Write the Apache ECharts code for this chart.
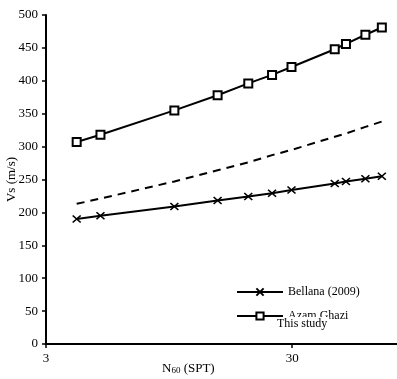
<!DOCTYPE html>
<html>
<head>
<meta charset="utf-8">
<script src="https://cdn.jsdelivr.net/npm/echarts@6/dist/echarts.min.js"></script>
<style>
  html, body { margin: 0; padding: 0; background: #fff; }
  #chart { width: 397px; height: 379px; }
</style>
</head>
<body>
<div id="chart"></div>
<script>
// N60 values (log axis)
var n60 = [4, 5, 10, 15, 20, 25, 30, 45, 50, 60, 70];
var bellana = [190, 195, 209, 218, 224, 229, 234, 244, 247, 251, 255];
var azamGhazi = [307, 318, 355, 378, 396, 409, 421, 448, 456, 470, 481];
var thisStudy = [213, 221, 247, 264, 276, 287, 295, 315, 320, 330, 338];
var xTicks = [3, 30];

function pairs(vals){
  return n60.map(function(n, i){ return [n, vals[i]]; });
}

var serif = "Liberation Serif";
var chart = echarts.init(document.getElementById("chart"));
var option = {
  animation: false,
  backgroundColor: "#fff",
  // the axis runs 3..300, the right part is cut off by the canvas edge
  grid: { left: 46, right: -140, top: 15, bottom: 35, outerBoundsMode: "none", containLabel: false },
  legend: {
    left: 231, top: 281,
    orient: "vertical",
    itemWidth: 46, itemHeight: 9, itemGap: 12,
    data: ["Bellana (2009)", "Azam Ghazi"],
    textStyle: { fontFamily: serif, fontSize: 12, color: "#000" }
  },
  xAxis: {
    type: "log",
    logBase: 10,
    min: 3, max: 300,
    interval: 1,
    splitLine: { show: false },
    axisLine: { lineStyle: { color: "#000", width: 2 } },
    axisTick: { inside: false, length: 4, lineStyle: { color: "#000", width: 1.5 } },
    minorTick: { show: false },
    axisLabel: {
      fontFamily: serif, fontSize: 13, color: "#000", margin: 8,
      formatter: function(v){ return xTicks.indexOf(Math.round(v)) >= 0 ? String(Math.round(v)) : ""; }
    }
  },
  yAxis: {
    type: "value",
    min: 0, max: 500, interval: 50,
    name: "Vs (m/s)",
    nameLocation: "middle",
    nameGap: 28,
    nameMoveOverlap: false,
    nameTextStyle: { fontFamily: serif, fontSize: 13, color: "#000" },
    splitLine: { show: false },
    axisLine: { show: true, lineStyle: { color: "#000", width: 2 } },
    axisTick: { show: true, length: 4, lineStyle: { color: "#000", width: 1.5 } },
    axisLabel: { fontFamily: serif, fontSize: 13, color: "#000", margin: 8 }
  },
  graphic: [
    {
      type: "text", left: 162, top: 362,
      style: {
        rich: {
          a: { fontFamily: serif, fontSize: 13, fill: "#000" },
          s: { fontFamily: serif, fontSize: 9, fill: "#000", padding: [5, 0, 0, 0] }
        },
        text: "{a|N}{s|60}{a| (SPT)}"
      }
    },
    {
      type: "text", left: 276, top: 317, z: 100,
      style: {
        text: "This study", fontFamily: serif, fontSize: 12, fill: "#000",
        backgroundColor: "#fff", padding: [1, 2, 3, 1]
      }
    }
  ],
  series: [
    {
      name: "Bellana (2009)",
      type: "line",
      data: pairs(bellana),
      symbol: "path://M0,0L10,10M10,0L0,10",
      symbolSize: [8, 7],
      lineStyle: { color: "#000", width: 2 },
      itemStyle: { color: "#000", borderColor: "#000", borderWidth: 1.5 }
    },
    {
      name: "Azam Ghazi",
      type: "line",
      data: pairs(azamGhazi),
      symbol: "rect",
      symbolSize: 8,
      lineStyle: { color: "#000", width: 2 },
      itemStyle: { color: "#fff", borderColor: "#000", borderWidth: 2 }
    },
    {
      name: "This study",
      type: "line",
      data: pairs(thisStudy),
      symbol: "none",
      lineStyle: { color: "#000", width: 2, type: [8, 6] }
    }
  ]
};
chart.setOption(option);
</script>
</body>
</html>
